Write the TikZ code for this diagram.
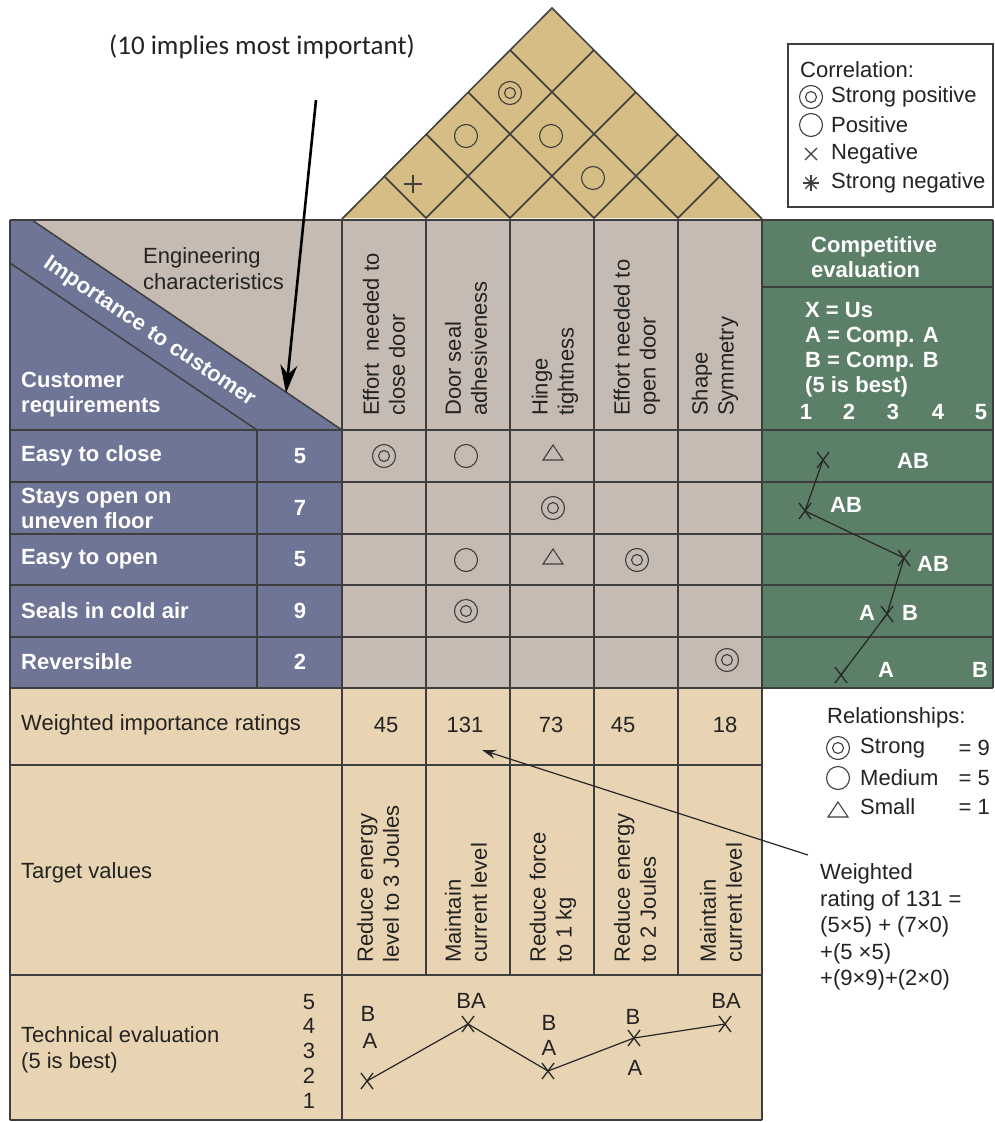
\documentclass[tikz,border=0pt]{standalone}
\usepackage{fontspec}
\setmainfont{Liberation Sans}
\newfontfamily\annfont{Carlito}
\usetikzlibrary{arrows.meta,calc}
\definecolor{hqblue}{RGB}{111,117,150}
\definecolor{hqtaupe}{RGB}{197,187,178}
\definecolor{hqroof}{RGB}{214,189,134}
\definecolor{hqgreen}{RGB}{92,127,104}
\definecolor{hqbeige}{RGB}{232,211,178}
\definecolor{hqline}{RGB}{62,62,62}
\definecolor{hqtext}{RGB}{35,35,35}
\tikzset{
  xmark/.pic={\draw[black!85,line width=1.3pt] (-6,-8)--(6,8) (-6,8)--(6,-8);},
  dblc/.pic={\draw[hqline,line width=1.1pt] (0,0) circle (11.5) (0,0) circle (5.5);},
  onec/.pic={\draw[hqline,line width=1.1pt] (0,0) circle (11.5);},
  tri/.pic={\draw[hqline,line width=1.1pt] (-10,7)--(10,7)--(0,-8)--cycle;},
}
\begin{document}
\begin{tikzpicture}[x=1pt,y=-1pt,
  grid/.style={draw=hqline,line width=1.5pt},
  wt/.style={text=white,font=\bfseries\fontsize{22}{25}\selectfont,inner sep=0pt},
  dt/.style={text=hqtext,font=\fontsize{22}{26}\selectfont,inner sep=0pt},
  vt/.style={dt,rotate=90,anchor=west,align=left},
  lt/.style={dt,anchor=west,align=left}]
\useasboundingbox (0,0) rectangle (994,1122);
\fill[white] (0,0) rectangle (994,1122);
% fills
\fill[hqtaupe] (10,220) rectangle (762,688);
\fill[hqblue] (10,220) -- (32,220) -- (342,430) -- (342,688) -- (10,688) -- cycle;
\fill[hqgreen] (762,220) rectangle (993,688);
\fill[hqbeige] (10,688) rectangle (762,1120);
\draw[hqroof!100,fill=hqroof] (342,218) -- (552,8) -- (762,218) -- cycle;
% roof grid
\draw[grid] (342,219) -- (552,8) -- (762,219);
\foreach \b in {426,510,594,678} {
  \draw[grid] ({(\b+342)/2},{218-(\b-342)/2}) -- (\b,218) -- ({(\b+762)/2},{218-(762-\b)/2});
}
% horizontal lines
\draw[grid] (10,220) -- (993,220);
\draw[grid] (762,287) -- (993,287);
\foreach \y in {430,482,534,585,637,688} \draw[grid] (10,\y) -- (993,\y);
\foreach \y in {765,975,1120} \draw[grid] (10,\y) -- (762,\y);
% vertical lines
\draw[grid] (10,220) -- (10,1120);
\draw[grid] (342,220) -- (342,1120);
\draw[grid] (762,220) -- (762,1120);
\draw[grid] (993,220) -- (993,688);
\draw[grid] (257,430) -- (257,688);
\foreach \x in {426,510,594,678} \draw[grid] (\x,220) -- (\x,975);
% band lines
\draw[grid] (32,220) -- (342,430);
\draw[grid] (10,263) -- (257,430);
% correlation symbols in the roof
\pic at (510,93) {dblc};
\pic at (466,136) {onec};
\pic at (551,136) {onec};
\pic at (593,178) {onec};
\draw[hqline,line width=1.1pt] (404,184) -- (422,184) (413,175) -- (413,193);
% header texts
\node[dt,anchor=west,align=left] (engc) at (143,269) {Engineering\\characteristics};
\node[wt,rotate=-34.1] (imp) at (149,332) {Importance to customer};
\node[wt,anchor=west,align=left] (custreq) at (21,395) {Customer\\requirements};
\node[vt] (ec1) at (384,416) {Effort \ needed to\\close door};
\node[vt] (ec2) at (466,416) {Door seal\\adhesiveness};
\node[vt] (ec3) at (555,416) {Hinge\\tightness};
\node[vt] (ec4) at (637,416) {Effort needed to\\open door};
\node[vt] (ec5) at (715,416) {Shape\\Symmetry};
% customer requirements rows
\node[wt,anchor=west] (cr1) at (21,456) {Easy to close};
\node[wt,anchor=west,align=left] (cr2) at (21,508) {Stays open on\\uneven floor};
\node[wt,anchor=west] (cr3) at (21,559) {Easy to open};
\node[wt,anchor=west] (cr4) at (21,611) {Seals in cold air};
\node[wt,anchor=west] (cr5) at (21,662) {Reversible};
\node[wt] (im1) at (300,456) {5};
\node[wt] (im2) at (300,508) {7};
\node[wt] (im3) at (300,559) {5};
\node[wt] (im4) at (300,611) {9};
\node[wt] (im5) at (300,662) {2};
% relationship matrix
\pic at (384,456) {dblc};
\pic at (466,456) {onec};
\pic at (553,453) {tri};
\pic at (553,508) {dblc};
\pic at (466,560) {onec};
\pic at (553,557) {tri};
\pic at (637,560) {dblc};
\pic at (466,611) {dblc};
\pic at (727,660) {dblc};
% competitive evaluation
\node[wt,anchor=west,align=left] (compev) at (811,257) {Competitive\\evaluation};
\node[wt,anchor=west,align=left] (compkey) at (805,350) {X = Us\\A = Comp. A\\B = Comp. B\\(5 is best)};
\foreach \v/\xx in {1/806,2/849,3/893,4/938,5/981} \node[wt] (sc\v) at (\xx,412) {\v};
\coordinate (cx1) at (823,460);
\coordinate (cx2) at (805,511);
\coordinate (cx3) at (904,558);
\coordinate (cx4) at (887,614);
\coordinate (cx5) at (841,675);
\draw[black!85,line width=1.2pt] (cx1) -- (cx2) -- (cx3) -- (cx4) -- (cx5);
\foreach \c in {cx1,cx2,cx3,cx4,cx5} \pic at (\c) {xmark};
\node[wt] (r1ab) at (913,461) {AB};
\node[wt] (r2ab) at (846,505) {AB};
\node[wt] (r3ab) at (933,564) {AB};
\node[wt] (r4a) at (867,613) {A};
\node[wt] (r4b) at (910,613) {B};
\node[wt] (r5a) at (886,670) {A};
\node[wt] (r5b) at (980,670) {B};
% weighted importance
\node[lt] (wir) at (21,725) {Weighted importance ratings};
\node[dt] (w1) at (386,725) {45};
\node[dt] (w2) at (465,725) {131};
\node[dt] (w3) at (551,725) {73};
\node[dt] (w4) at (623,725) {45};
\node[dt] (w5) at (725,725) {18};
% target values
\node[lt] (tv) at (21,873) {Target values};
\node[vt] (t1) at (378,963) {Reduce energy\\level to 3 Joules};
\node[vt] (t2) at (466,963) {Maintain\\current level};
\node[vt] (t3) at (553,963) {Reduce force\\to 1 kg};
\node[vt] (t4) at (635,963) {Reduce energy\\to 2 Joules};
\node[vt] (t5) at (721,963) {Maintain\\current level};
% technical evaluation
\node[lt] (te) at (21,1050) {Technical evaluation\\(5 is best)};
\foreach \v/\yy in {5/1002,4/1026,3/1051,2/1076,1/1101} \node[dt] (ts\v) at (309,\yy) {\v};
\node[dt] (t1b) at (368,1014) {B};
\node[dt] (t1a) at (370,1041) {A};
\node[dt] (t2ba) at (471,1001) {BA};
\node[dt] (t3b) at (549,1023) {B};
\node[dt] (t3a) at (549,1048) {A};
\node[dt] (t4b) at (633,1017) {B};
\node[dt] (t4a) at (635,1068) {A};
\node[dt] (t5ba) at (726,1001) {BA};
\coordinate (tx1) at (367,1081);
\coordinate (tx2) at (468,1024);
\coordinate (tx3) at (548,1071);
\coordinate (tx4) at (634,1038);
\coordinate (tx5) at (725,1024);
\draw[black!85,line width=1.2pt] (tx1) -- (tx2) -- (tx3) -- (tx4) -- (tx5);
\foreach \c in {tx1,tx2,tx3,tx4,tx5} \pic at (\c) {xmark};
% correlation legend
\draw[hqline,line width=1.2pt,fill=white] (788,44) rectangle (993,207);
\node[lt] (corr) at (800,70) {Correlation:};
\pic at (811,97) {dblc};
\node[lt] (cl1) at (831,97) {Strong positive};
\pic at (811,125) {onec};
\node[lt] (cl2) at (831,125) {Positive};
\draw[hqline,line width=1.1pt] (805,148) -- (817,160) (805,160) -- (817,148);
\node[lt] (cl3) at (831,154) {Negative};
\foreach \a in {0,45,90,135} \draw[hqline,line width=1.2pt] ($(811,183)+(\a:8)$) -- ($(811,183)+(\a+180:8)$);
\node[lt] (cl4) at (831,183) {Strong negative};
% relationship legend
\node[lt] (rel) at (827,718) {Relationships:};
\pic at (838,748) {dblc};
\node[lt] (rl1) at (860,748) {Strong};
\node[dt,anchor=east] (rl1v) at (990,748) {= 9};
\pic at (838,778) {onec};
\node[lt] (rl2) at (860,778) {Medium};
\node[dt,anchor=east] (rl2v) at (990,778) {= 5};
\pic at (838,810) {tri};
\node[lt] (rl3) at (860,807) {Small};
\node[dt,anchor=east] (rl3v) at (990,807) {= 1};
% weighted rating explanation
\node[lt,font=\fontsize{22}{26.5}\selectfont] (wexp) at (820,927) {Weighted\\rating of 131 =\\(5×5) + (7×0)\\+(5 ×5)\\+(9×9)+(2×0)};
\coordinate (wexpstart) at (808,855);
\coordinate (w2tip) at (482,750);
\draw[black!85,line width=1.2pt,-{Stealth[length=14pt,width=9pt]}] (wexpstart) -- (w2tip);
% annotation
\node[text=hqtext,font=\annfont\fontsize{27}{30}\selectfont,inner sep=0pt] (ann) at (262,47) {(10 implies most important)};
\coordinate (annstart) at (316,100);
\coordinate (anntip) at (286,393);
\draw[black,line width=2.6pt,-{Stealth[length=28pt,width=17pt]}] (annstart) -- (anntip);
\end{tikzpicture}
\end{document}
